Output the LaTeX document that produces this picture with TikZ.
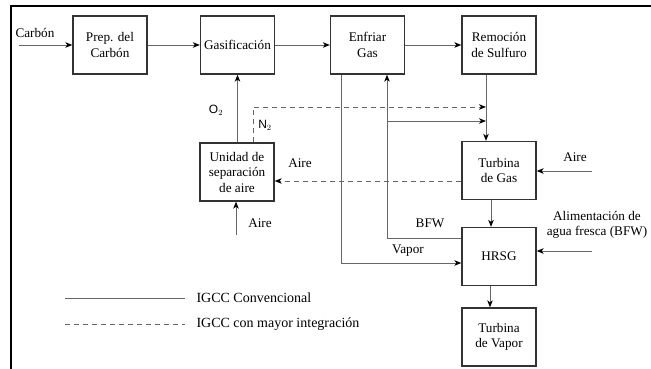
\documentclass[tikz,border=0pt]{standalone}
\usepackage{fontspec}
\setmainfont{Liberation Serif}
\newfontfamily\gassans{Liberation Sans}
\usepackage{tikz}
\usetikzlibrary{arrows.meta, calc, positioning}

\tikzset{
  unitbox/.style={draw=black!80, line width=1.3pt, fill=white, minimum width=74pt,
    minimum height=58pt, align=center, inner sep=1pt, font=\fontsize{13.2}{15.5}\selectfont},
  flow/.style={draw=black!60, line width=0.9pt,
    -{Stealth[length=7pt, width=5.5pt, inset=2pt, color=black]}},
  flowd/.style={flow, dashed, dash pattern=on 5pt off 4pt},
  lbl/.style={font=\fontsize{13.2}{15.5}\selectfont, align=center},
}

\begin{document}
\begin{tikzpicture}[x=1pt,y=-1pt]
        \useasboundingbox (0,0) rectangle (651,369);

        % 1. Frame (top and left only)
        \draw[line width=1.8pt] (11,369) -- (11,6) -- (651,6);

        % 2. Process units
        \node[unitbox] (prep)  at (110,45)    {Prep. del\\Carbón};
        \node[unitbox] (gasif) at (237.5,45)  {Gasificación};
        \node[unitbox] (enfr)  at (367.5,45)  {Enfriar\\Gas};
        \node[unitbox] (remo)  at (499,45)    {Remoción\\de Sulfuro};
        \node[unitbox] (unid)  at (237,172)   {Unidad de\\separación\\de aire};
        \node[unitbox] (tgas)  at (499,170.5) {Turbina\\de Gas};
        \node[unitbox] (hrsg)  at (499,256.5) {HRSG};
        \node[unitbox] (tvap)  at (499,337)   {Turbina\\de Vapor};

        % 3. Free ends and split points
        \coordinate (carbin)  at (19,45);
        \coordinate (aireasu) at (236,235);
        \coordinate (airetg)  at (592,171);
        \coordinate (bfwin)   at (592,251);
        \coordinate (rline)   at ([xshift=-13]remo.south);
        \coordinate (bfwsplit) at (387,121);

        % 4. Main line
        \draw[flow] (carbin) -- (prep);
        \node[lbl] at (35,33) {Carbón};
        \draw[flow] (prep) -- (gasif);
        \draw[flow] (gasif) -- (enfr);
        \draw[flow] (enfr) -- (remo);
        \draw[flow] (rline) -- (rline |- tgas.north);
        \draw[flow] ([xshift=-8]tgas.south) -- ([xshift=-8]hrsg.north);
        \draw[flow] ([xshift=-9]hrsg.south) -- ([xshift=-9]tvap.north);

        % 5. Air separation unit
        \draw[flow] (aireasu) -- (aireasu |- unid.south);
        \node[lbl] at (260,223) {Aire};
        \draw[flow] (unid.north -| gasif.south) -- (gasif.south);
        \node[font=\gassans\fontsize{12}{14}\selectfont] at (216,110) {O$_2$};
        \draw[flowd] ([xshift=16]unid.north) |- (rline |- 0,107);
        \node[font=\gassans\fontsize{12}{14}\selectfont] at (265,125) {N$_2$};
        \draw[flowd] ([yshift=-10.5]tgas.west) -- ([yshift=-10.5]tgas.west -| unid.east);
        \node[lbl] at (300,163) {Aire};

        % 6. Steam and BFW loop
        \draw[flow] ([xshift=-26.5]enfr.south) |- ([yshift=-6.5]hrsg.west);
        \node[lbl] at (408,251) {Vapor};
        \draw[flow] ([yshift=18.5]hrsg.west) -| ([xshift=19.5]enfr.south);
        \node[lbl] at (430,223) {BFW};
        \draw[flow] (bfwsplit) -- (bfwsplit -| rline);

        % 7. Outside feeds
        \draw[flow] (airetg) -- (airetg -| tgas.east);
        \node[lbl] at (575,157) {Aire};
        \draw[flow] (bfwin) -- (bfwin -| hrsg.east);
        \node[lbl] at (597,225) {Alimentación de\\agua fresca (BFW)};

        % 8. Legend
        \draw[draw=black!60, line width=0.9pt] (65,298) -- (185,298);
        \node[lbl, anchor=west, font=\fontsize{14}{16}\selectfont] at (193,298) {IGCC Convencional};
        \draw[draw=black!60, line width=0.9pt, dash pattern=on 5pt off 4pt] (65,324) -- (185,324);
        \node[lbl, anchor=west, font=\fontsize{14}{16}\selectfont] at (193,324) {IGCC con mayor integración};
    \end{tikzpicture}
\end{document}
